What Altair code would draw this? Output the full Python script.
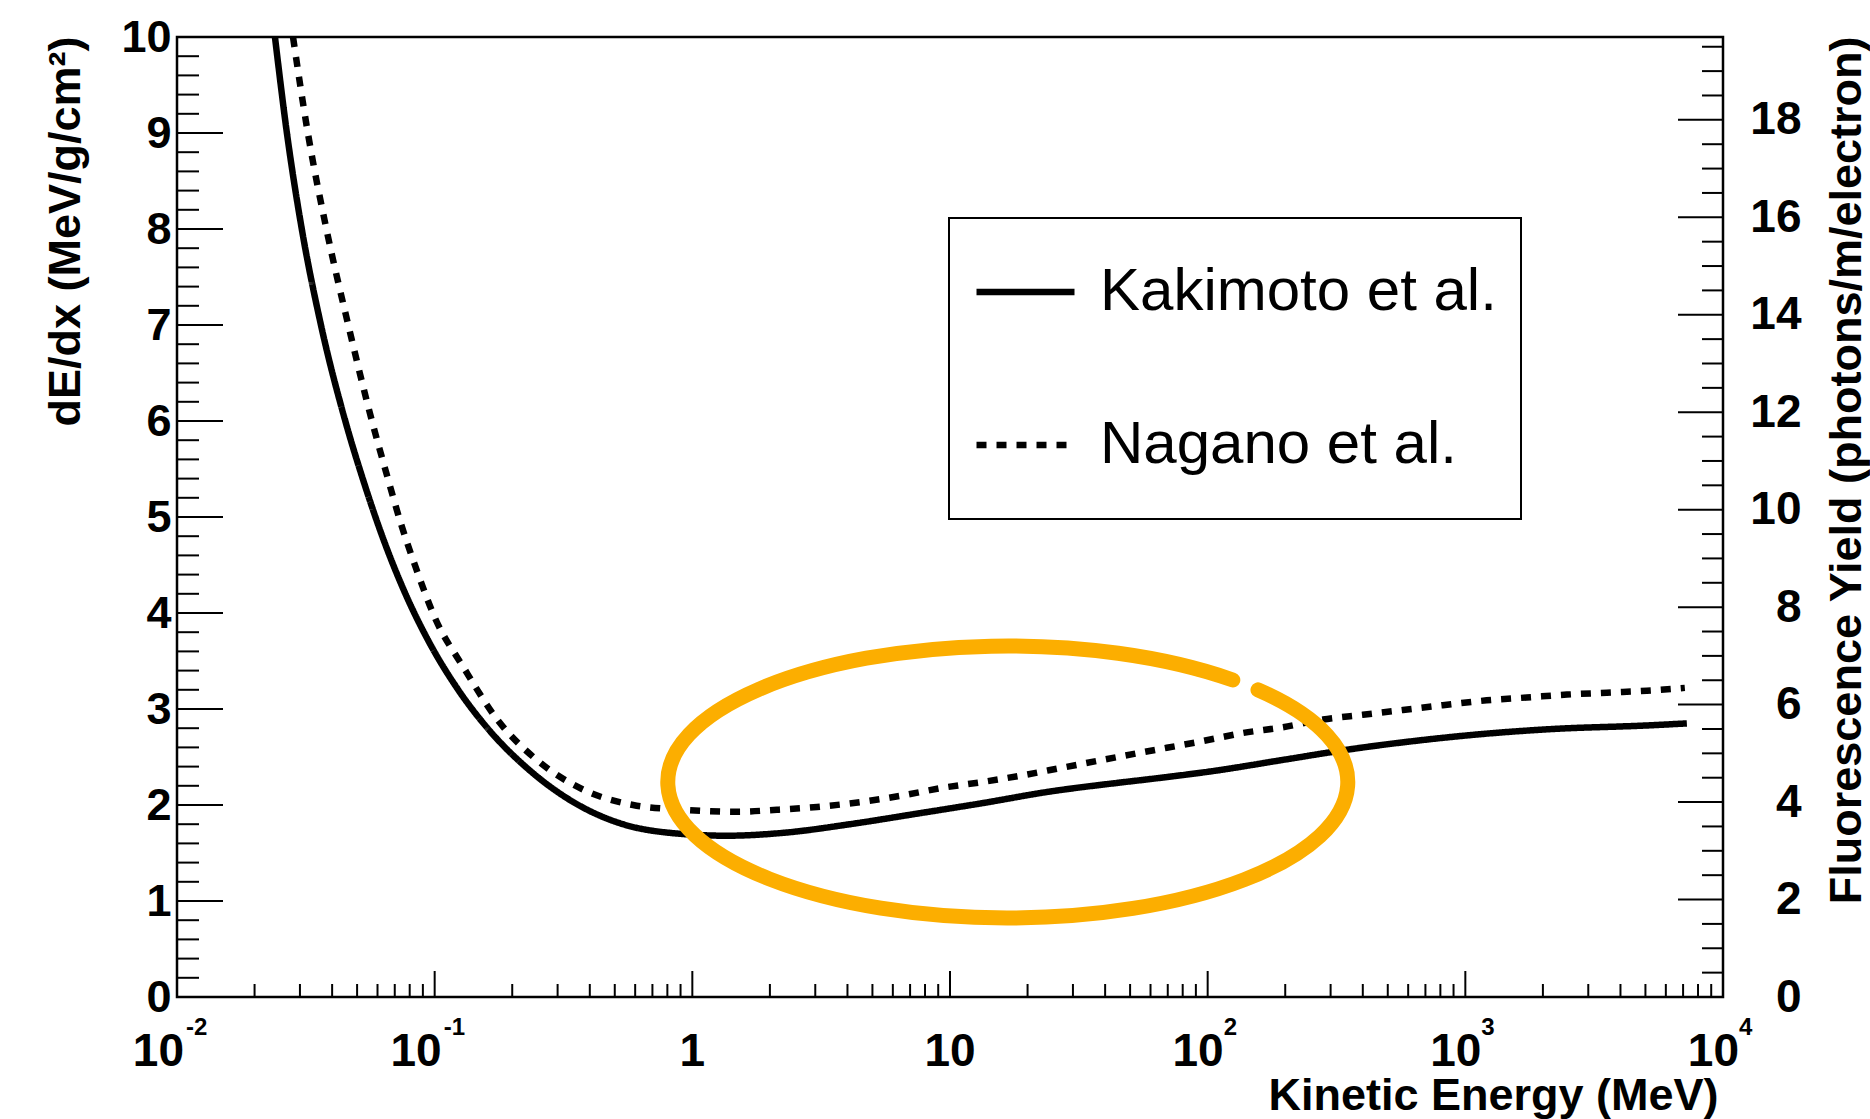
import altair as alt
import pandas as pd

# ---------------- data ----------------
series_names = ["Kakimoto et al.", "Nagano et al."]

kakimoto_energy = [0.0240, 0.0267, 0.0305, 0.0362, 0.0450, 0.0533, 0.0636, 0.0770,
                   0.0959, 0.122, 0.164, 0.234, 0.356, 0.538, 0.818, 1.36, 2.25,
                   4.09, 7.45, 13.4, 24.4, 44.5, 59.7, 109, 196, 356, 649, 1170,
                   2130, 5200, 7240]
kakimoto_dedx = [10.0, 9.0, 8.0, 7.0, 6.0, 5.35, 4.75, 4.20,
                 3.68, 3.22, 2.77, 2.36, 2.01, 1.80, 1.71, 1.68, 1.71,
                 1.80, 1.91, 2.02, 2.14, 2.23, 2.27, 2.36, 2.47, 2.58, 2.67, 2.74,
                 2.79, 2.83, 2.85]

nagano_energy = [0.0282, 0.0322, 0.0380, 0.0462, 0.0571, 0.0649, 0.0738, 0.0843,
                 0.101, 0.129, 0.175, 0.249, 0.377, 0.589, 0.920, 1.49, 2.13,
                 3.05, 4.47, 6.56, 9.40, 13.4, 19.2, 27.4, 39.2, 56.1, 93.3, 137,
                 196, 280, 400, 573, 818, 1210, 1730, 2480, 3540, 5060, 7110]
nagano_dedx = [10.0, 9.0, 8.0, 7.0, 6.0, 5.46, 4.94, 4.48,
               3.93, 3.44, 2.89, 2.47, 2.16, 2.00, 1.95, 1.93, 1.95,
               1.98, 2.03, 2.10, 2.18, 2.24, 2.31, 2.39, 2.47, 2.55, 2.66, 2.75,
               2.81, 2.89, 2.94, 2.99, 3.04, 3.09, 3.12, 3.15, 3.17, 3.19, 3.22]

x_tick_values = [0.01, 0.1, 1, 10, 100, 1000, 10000]
x_tick_base = ["10", "10", "1", "10", "10", "10", "10"]
x_tick_exp = ["-2", "-1", "", "", "2", "3", "4"]

left_major_ticks = list(range(0, 11))
right_major_ticks = list(range(0, 19, 2))

highlight_energy = [16.4]
highlight_dedx = [2.25]

# ---------------- layout / style ----------------
W, H = 1546, 960
FONT = "Liberation Sans"
ORANGE = "#FCAE00"
LINE_W = 6.5

x_minor_ticks = [m * 10.0 ** e for e in range(-2, 4) for m in range(2, 10)]
left_minor_ticks = [round(i * 0.2, 2) for i in range(51) if i % 5 != 0]
right_minor_ticks = [i * 0.5 for i in range(40) if i % 4 != 0]


def xs():
    return alt.Scale(type="log", domain=[0.01, 10000], nice=False)


def ys():
    return alt.Scale(domain=[0, 10], nice=False, zero=False)


y2scale = alt.Scale(domain=[0, 19.7], nice=False, zero=False)

curves = pd.DataFrame({
    "energy": kakimoto_energy + nagano_energy,
    "dedx": kakimoto_dedx + nagano_dedx,
    "series": [series_names[0]] * len(kakimoto_energy) + [series_names[1]] * len(nagano_energy),
})

left_axis = alt.Axis(orient="left", values=left_major_ticks, ticks=False, tickSize=0,
                     domain=False, grid=False, labelFont=FONT, labelFontSize=45,
                     labelFontWeight="bold", labelColor="black", labelPadding=6,
                     title="dE/dx (MeV/g/cm²)", titleFont=FONT, titleFontSize=45,
                     titleFontWeight="bold", titleColor="black", titleAngle=270,
                     titleAlign="right", titleBaseline="alphabetic",
                     titleX=-98, titleY=-1)
bottom_axis = alt.Axis(orient="bottom", labels=False, ticks=False, tickSize=0, domain=False,
                       grid=False, title="Kinetic Energy (MeV)", titleFont=FONT,
                       titleFontSize=45, titleFontWeight="bold", titleColor="black",
                       titleAlign="right", titleBaseline="alphabetic",
                       titleX=W - 5, titleY=112)
right_axis = alt.Axis(orient="right", values=right_major_ticks, ticks=False, tickSize=0,
                      domain=False, grid=False, labelFont=FONT, labelFontSize=46,
                      labelFontWeight="bold", labelColor="black", labelAlign="right",
                      labelPadding=78,
                      title="Fluorescence Yield (photons/m/electron)", titleFont=FONT,
                      titleFontSize=45, titleFontWeight="bold", titleColor="black",
                      titleAngle=270, titleAlign="right", titleBaseline="alphabetic",
                      titleX=137, titleY=-1)

lines = alt.Chart(curves).mark_line(
    color="black", strokeWidth=LINE_W, interpolate="monotone", clip=True
).encode(
    x=alt.X("energy:Q", scale=xs(), axis=bottom_axis),
    y=alt.Y("dedx:Q", scale=ys(), axis=left_axis),
    strokeDash=alt.StrokeDash(
        "series:N",
        scale=alt.Scale(domain=series_names, range=[[1, 0], [10, 10]]),
        legend=alt.Legend(title=None, orient="none", legendX=772, legendY=181,
                          symbolType="stroke", symbolSize=9604, symbolStrokeWidth=LINE_W,
                          symbolStrokeColor="black", labelFont=FONT, labelFontSize=60,
                          labelFontWeight="normal", labelColor="black", labelOffset=22,
                          labelLimit=0, padding=24, rowPadding=53, clipHeight=100,
                          strokeColor="black", fillColor="white"),
    ),
)

left_major = alt.Chart(pd.DataFrame({"v": left_major_ticks})).mark_rule(
    color="black", strokeWidth=2).encode(
    y=alt.Y("v:Q", scale=ys(), axis=None), x=alt.value(0), x2=alt.value(46))
left_minor = alt.Chart(pd.DataFrame({"v": left_minor_ticks})).mark_rule(
    color="black", strokeWidth=2).encode(
    y=alt.Y("v:Q", scale=ys(), axis=None), x=alt.value(0), x2=alt.value(22))

bottom_major = alt.Chart(pd.DataFrame({"v": x_tick_values})).mark_rule(
    color="black", strokeWidth=2).encode(
    x=alt.X("v:Q", scale=xs(), axis=None), y=alt.value(H), y2=alt.value(H - 26))
bottom_minor = alt.Chart(pd.DataFrame({"v": x_minor_ticks})).mark_rule(
    color="black", strokeWidth=2).encode(
    x=alt.X("v:Q", scale=xs(), axis=None), y=alt.value(H), y2=alt.value(H - 13))

right_major = alt.Chart(pd.DataFrame({"v": right_major_ticks})).mark_rule(
    color="black", strokeWidth=2).encode(
    y=alt.Y("v:Q", scale=y2scale, axis=right_axis), x=alt.value(W - 45), x2=alt.value(W))
right_minor = alt.Chart(pd.DataFrame({"v": right_minor_ticks})).mark_rule(
    color="black", strokeWidth=2).encode(
    y=alt.Y("v:Q", scale=y2scale, axis=None), x=alt.value(W - 21), x2=alt.value(W))

xlab = pd.DataFrame({"v": x_tick_values, "base": x_tick_base, "exp": x_tick_exp})
xlab["kind"] = ["neg" if e.startswith("-") else ("plain" if e == "" else "pos") for e in x_tick_exp]
xl = alt.Chart(xlab)
base_style = dict(font=FONT, fontSize=46, fontWeight="bold", color="black",
                  baseline="alphabetic", dy=69)
exp_style = dict(font=FONT, fontSize=24, fontWeight="bold", color="black",
                 baseline="alphabetic", dy=38, align="left")


def enc(field):
    return dict(x=alt.X("v:Q", scale=xs(), axis=None), y=alt.value(H), text=f"{field}:N")


lab_plain = xl.transform_filter("datum.kind == 'plain'").mark_text(align="center", **base_style).encode(**enc("base"))
lab_neg = xl.transform_filter("datum.kind == 'neg'").mark_text(align="right", dx=7, **base_style).encode(**enc("base"))
lab_pos = xl.transform_filter("datum.kind == 'pos'").mark_text(align="right", dx=16, **base_style).encode(**enc("base"))
exp_neg = xl.transform_filter("datum.kind == 'neg'").mark_text(dx=9, **exp_style).encode(**enc("exp"))
exp_pos = xl.transform_filter("datum.kind == 'pos'").mark_text(dx=16, **exp_style).encode(**enc("exp"))

ELLIPSE = "M0.743,-0.268 A1,0.4 0 1,1 0.669,-0.297"
highlight = alt.Chart(pd.DataFrame({"energy": highlight_energy, "dedx": highlight_dedx})).mark_point(
    shape=ELLIPSE, size=462400, filled=False, stroke=ORANGE, strokeWidth=15,
    opacity=1, strokeCap="round").encode(
    x=alt.X("energy:Q", scale=xs(), axis=None),
    y=alt.Y("dedx:Q", scale=ys(), axis=None))

chart = alt.layer(
    lines, left_minor, left_major, bottom_minor, bottom_major, right_major, right_minor,
    lab_plain, lab_neg, lab_pos, exp_neg, exp_pos, highlight
).resolve_scale(x="independent", y="independent").properties(
    width=W, height=H,
    autosize=alt.AutoSizeParams(type="none"),
    padding={"left": 177, "top": 37, "right": 147, "bottom": 122},
    background="white",
).configure_view(stroke="black", strokeWidth=2.5).configure_legend(strokeWidth=2)

chart.save("out.html", embed_options={"renderer": "svg", "actions": False})
